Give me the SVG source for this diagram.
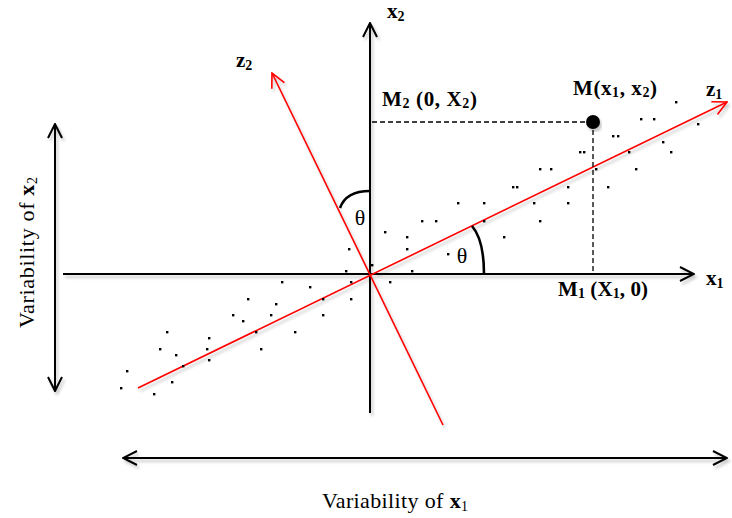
<svg xmlns="http://www.w3.org/2000/svg" width="732" height="518" viewBox="0 0 732 518">
<style>
.ax{stroke:#000;stroke-width:2;fill:none}
.red{stroke:#ff0000;stroke-width:1.6;fill:none}
.dash{stroke:#000;stroke-width:1.3;stroke-dasharray:5,3;fill:none}
.arc{stroke:#000;stroke-width:2.6;fill:none}
.lbl{font-family:"Liberation Serif","Times New Roman",serif;font-weight:bold;font-size:21px;fill:#000}
.sub{font-size:14px}
.var{font-family:"Liberation Serif","Times New Roman",serif;font-size:22px;fill:#000}
.th{font-family:"Liberation Serif","Times New Roman",serif;font-size:22px;fill:#000}
.dots rect{fill:#000}
</style>
<defs>
<filter id="sh" x="-10%" y="-10%" width="120%" height="130%">
<feDropShadow dx="2" dy="3" stdDeviation="1.6" flood-color="#000" flood-opacity="0.22"/>
</filter>
<marker id="ab" viewBox="0 0 16 16" markerUnits="userSpaceOnUse" markerWidth="16" markerHeight="16" refX="15" refY="8" orient="auto-start-reverse">
<path d="M1,1 L15,8 L1,15" fill="none" stroke="#000" stroke-width="2"/>
</marker>
<marker id="ar" viewBox="0 0 16 16" markerUnits="userSpaceOnUse" markerWidth="16" markerHeight="16" refX="15" refY="8" orient="auto">
<path d="M1,1 L15,8 L1,15" fill="none" stroke="#ff0000" stroke-width="1.6"/>
</marker>
</defs>
<rect width="732" height="518" fill="#fff"/>

<g id="connectors">
<g filter="url(#sh)">
<line id="x1-axis" class="ax" x1="63" y1="274" x2="694" y2="274" marker-end="url(#ab)"/>
<line id="x2-axis" class="ax" x1="370" y1="413" x2="370" y2="23" marker-end="url(#ab)"/>
<line id="var-x2-arrow" class="ax" x1="55" y1="124" x2="55" y2="391" marker-start="url(#ab)" marker-end="url(#ab)"/>
<line id="var-x1-arrow" class="ax" x1="123" y1="458" x2="727" y2="458" marker-start="url(#ab)" marker-end="url(#ab)"/>
<line id="z1-axis" class="red" x1="138" y1="388" x2="727" y2="102" marker-end="url(#ar)"/>
<line id="z2-axis" class="red" x1="443" y1="425" x2="272" y2="73" marker-end="url(#ar)"/>
</g>
<line class="dash" x1="372" y1="122" x2="593" y2="122"/>
<line class="dash" x1="593" y1="122" x2="593" y2="273"/>
<path class="arc" d="M370,191 Q346,191 340,208"/>
<path class="arc" d="M472,226 Q484,240 484,274"/>
</g>

<g id="point-M">
<circle cx="593" cy="122" r="7" fill="#000" filter="url(#sh)"/>
</g>

<g id="scatter" class="dots">
<rect x="120" y="387" width="2.4" height="2.4"/>
<rect x="126" y="370" width="2.4" height="2.4"/>
<rect x="153" y="393" width="2.4" height="2.4"/>
<rect x="159" y="348" width="2.4" height="2.4"/>
<rect x="166" y="331" width="2.4" height="2.4"/>
<rect x="171" y="381" width="2.4" height="2.4"/>
<rect x="175" y="354" width="2.4" height="2.4"/>
<rect x="182" y="365" width="2.4" height="2.4"/>
<rect x="206" y="348" width="2.4" height="2.4"/>
<rect x="208" y="337" width="2.4" height="2.4"/>
<rect x="208" y="359" width="2.4" height="2.4"/>
<rect x="232" y="314" width="2.4" height="2.4"/>
<rect x="242" y="320" width="2.4" height="2.4"/>
<rect x="247" y="298" width="2.4" height="2.4"/>
<rect x="255" y="331" width="2.4" height="2.4"/>
<rect x="260" y="348" width="2.4" height="2.4"/>
<rect x="270" y="314" width="2.4" height="2.4"/>
<rect x="275" y="303" width="2.4" height="2.4"/>
<rect x="281" y="281" width="2.4" height="2.4"/>
<rect x="294" y="331" width="2.4" height="2.4"/>
<rect x="309" y="286" width="2.4" height="2.4"/>
<rect x="322" y="298" width="2.4" height="2.4"/>
<rect x="322" y="314" width="2.4" height="2.4"/>
<rect x="345" y="270" width="2.4" height="2.4"/>
<rect x="350" y="281" width="2.4" height="2.4"/>
<rect x="350" y="298" width="2.4" height="2.4"/>
<rect x="348" y="248" width="2.4" height="2.4"/>
<rect x="371" y="264" width="2.4" height="2.4"/>
<rect x="389" y="281" width="2.4" height="2.4"/>
<rect x="411" y="270" width="2.4" height="2.4"/>
<rect x="384" y="231" width="2.4" height="2.4"/>
<rect x="406" y="236" width="2.4" height="2.4"/>
<rect x="406" y="248" width="2.4" height="2.4"/>
<rect x="421" y="220" width="2.4" height="2.4"/>
<rect x="435" y="220" width="2.4" height="2.4"/>
<rect x="447" y="253" width="2.4" height="2.4"/>
<rect x="457" y="202" width="2.4" height="2.4"/>
<rect x="483" y="202" width="2.4" height="2.4"/>
<rect x="483" y="220" width="2.4" height="2.4"/>
<rect x="503" y="236" width="2.4" height="2.4"/>
<rect x="512" y="186" width="2.4" height="2.4"/>
<rect x="516" y="186" width="2.4" height="2.4"/>
<rect x="533" y="202" width="2.4" height="2.4"/>
<rect x="539" y="168" width="2.4" height="2.4"/>
<rect x="550" y="168" width="2.4" height="2.4"/>
<rect x="539" y="220" width="2.4" height="2.4"/>
<rect x="567" y="186" width="2.4" height="2.4"/>
<rect x="567" y="202" width="2.4" height="2.4"/>
<rect x="579" y="151" width="2.4" height="2.4"/>
<rect x="583" y="151" width="2.4" height="2.4"/>
<rect x="595" y="168" width="2.4" height="2.4"/>
<rect x="607" y="186" width="2.4" height="2.4"/>
<rect x="612" y="135" width="2.4" height="2.4"/>
<rect x="617" y="135" width="2.4" height="2.4"/>
<rect x="628" y="151" width="2.4" height="2.4"/>
<rect x="635" y="168" width="2.4" height="2.4"/>
<rect x="640" y="118" width="2.4" height="2.4"/>
<rect x="653" y="118" width="2.4" height="2.4"/>
<rect x="662" y="141" width="2.4" height="2.4"/>
<rect x="670" y="151" width="2.4" height="2.4"/>
<rect x="675" y="101" width="2.4" height="2.4"/>
<rect x="697" y="123" width="2.4" height="2.4"/>
</g>

<g id="labels">
<text id="lbl-x2" class="lbl" x="387" y="18">x<tspan class="sub" dy="3">2</tspan></text>
<text id="lbl-z2" class="lbl" x="236" y="67">z<tspan class="sub" dy="3">2</tspan></text>
<text id="lbl-M2" class="lbl" x="382" y="106" textLength="95" lengthAdjust="spacing">M<tspan class="sub" dy="2">2</tspan><tspan dy="-2"> (0, X</tspan><tspan class="sub" dy="2">2</tspan><tspan dy="-2">)</tspan></text>
<text id="lbl-M" class="lbl" x="573" y="95" textLength="84" lengthAdjust="spacing">M(x<tspan class="sub" dy="2">1</tspan><tspan dy="-2">, x</tspan><tspan class="sub" dy="2">2</tspan><tspan dy="-2">)</tspan></text>
<text id="lbl-z1" class="lbl" x="706" y="96">z<tspan class="sub" dy="3">1</tspan></text>
<text id="lbl-x1" class="lbl" x="706" y="285">x<tspan class="sub" dy="3">1</tspan></text>
<text id="lbl-M1" class="lbl" x="558" y="296" textLength="90" lengthAdjust="spacing">M<tspan class="sub" dy="2">1</tspan><tspan dy="-2"> (X</tspan><tspan class="sub" dy="2">1</tspan><tspan dy="-2">, 0)</tspan></text>
<text id="theta-1" class="th" x="360" y="225" text-anchor="middle">θ</text>
<text id="theta-2" class="th" x="462" y="263" text-anchor="middle">θ</text>
</g>

<g id="variability-x2">
<text class="var" transform="translate(34,252.5) rotate(-90)" x="0" y="0" text-anchor="middle" textLength="151" lengthAdjust="spacing">Variability of <tspan font-weight="bold">x</tspan><tspan class="sub" dy="3">2</tspan></text>
</g>
<g id="variability-x1">
<text class="var" x="322" y="508" textLength="146" lengthAdjust="spacing">Variability of <tspan font-weight="bold">x</tspan><tspan class="sub" dy="3">1</tspan></text>
</g>
</svg>
